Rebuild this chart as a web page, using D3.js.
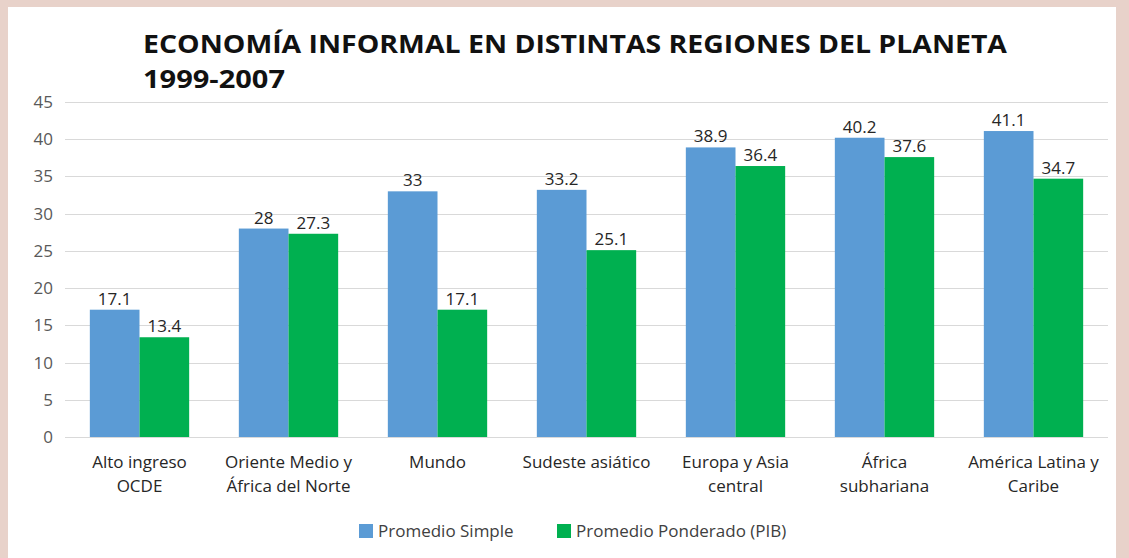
<!DOCTYPE html>
<html>
<head>
<meta charset="utf-8">
<script src="https://cdn.jsdelivr.net/npm/d3@7"></script>
<style>
  body { margin: 0; background: #e8d2ca; }
  svg { display: block; }
</style>
</head>
<body>
<svg width="1129" height="558"></svg>
<script>
var categories = [
  ["Alto ingreso", "OCDE"],
  ["Oriente Medio y", "África del Norte"],
  ["Mundo"],
  ["Sudeste asiático"],
  ["Europa y Asia", "central"],
  ["África", "subhariana"],
  ["América Latina y", "Caribe"]
];
var simple = [17.1, 28, 33, 33.2, 38.9, 40.2, 41.1];
var ponderado = [13.4, 27.3, 17.1, 25.1, 36.4, 37.6, 34.7];
var seriesNames = ["Promedio Simple", "Promedio Ponderado (PIB)"];
var seriesColors = ["#5b9bd5", "#00b050"];
var yTicks = [0, 5, 10, 15, 20, 25, 30, 35, 40, 45];

var svg = d3.select("svg");
var font = "'Open Sans', 'Noto Sans', sans-serif";

// panel
svg.append("rect").attr("x", 0).attr("y", 0).attr("width", 1129).attr("height", 558).attr("fill", "#e8d2ca");
svg.append("rect").attr("x", 8).attr("y", 7).attr("width", 1108).attr("height", 551).attr("fill", "#ffffff");

var plotLeft = 65, plotRight = 1108, plotTop = 102, plotBottom = 437;

var x = d3.scaleBand().domain(d3.range(categories.length)).range([plotLeft, plotRight]).paddingInner(1/3).paddingOuter(1/6);
var xs = d3.scaleBand().domain([0, 1]).range([0, x.bandwidth()]);
var y = d3.scaleLinear().domain([0, 45]).range([plotBottom, plotTop]);

// title
var title = svg.append("g").attr("font-family", font).attr("font-weight", "bold").attr("font-size", 25).attr("fill", "#111");
title.append("text").attr("x", 143).attr("y", 53)
  .attr("textLength", 864).attr("lengthAdjust", "spacingAndGlyphs")
  .text("ECONOMÍA INFORMAL EN DISTINTAS REGIONES DEL PLANETA");
title.append("text").attr("x", 143).attr("y", 88)
  .attr("textLength", 142).attr("lengthAdjust", "spacingAndGlyphs")
  .text("1999-2007");

// grid
svg.append("g").selectAll("line").data(yTicks).enter().append("line")
  .attr("x1", plotLeft).attr("x2", plotRight)
  .attr("y1", function(d) { return Math.round(y(d)) + 0.5; })
  .attr("y2", function(d) { return Math.round(y(d)) + 0.5; })
  .attr("stroke", "#d9d9d9").attr("stroke-width", 1);

// y axis labels
var yAxis = svg.append("g").attr("transform", "translate(" + (plotLeft - 12) + ",0)")
  .call(d3.axisLeft(y).tickValues(yTicks).tickSize(0).tickPadding(0));
yAxis.select(".domain").remove();
yAxis.selectAll("text").attr("font-family", font).attr("font-size", 17).attr("fill", "#595959");

// bars
var data = [simple, ponderado];
data.forEach(function(vals, s) {
  var g = svg.append("g");
  g.selectAll("rect").data(vals).enter().append("rect")
    .attr("x", function(d, i) { return x(i) + xs(s); })
    .attr("y", function(d) { return y(d); })
    .attr("width", xs.bandwidth())
    .attr("height", function(d) { return y(0) - y(d); })
    .attr("fill", seriesColors[s]);
  g.selectAll("text").data(vals).enter().append("text")
    .attr("x", function(d, i) { return x(i) + xs(s) + xs.bandwidth() / 2; })
    .attr("y", function(d) { return y(d) - 5; })
    .attr("text-anchor", "middle")
    .attr("font-family", font).attr("font-size", 17).attr("fill", "#262626")
    .text(function(d) { return d; });
});

// category labels
var cat = svg.append("g").selectAll("text").data(categories).enter().append("text")
  .attr("text-anchor", "middle")
  .attr("font-family", font).attr("font-size", 17).attr("fill", "#262626")
  .attr("transform", function(d, i) { return "translate(" + (x(i) + x.bandwidth() / 2) + ",468)"; });
cat.selectAll("tspan").data(function(d) { return d; }).enter().append("tspan")
  .attr("x", 0).attr("dy", function(d, i) { return i ? 24 : 0; })
  .text(function(d) { return d; });

// legend
var legendX = [359, 557];
seriesNames.forEach(function(name, s) {
  var lg = svg.append("g").attr("transform", "translate(" + legendX[s] + ",524)");
  lg.append("rect").attr("width", 14).attr("height", 14).attr("fill", seriesColors[s]);
  lg.append("text").attr("x", 19).attr("y", 13)
    .attr("font-family", font).attr("font-size", 17).attr("fill", "#404040")
    .text(name);
});
</script>
</body>
</html>
